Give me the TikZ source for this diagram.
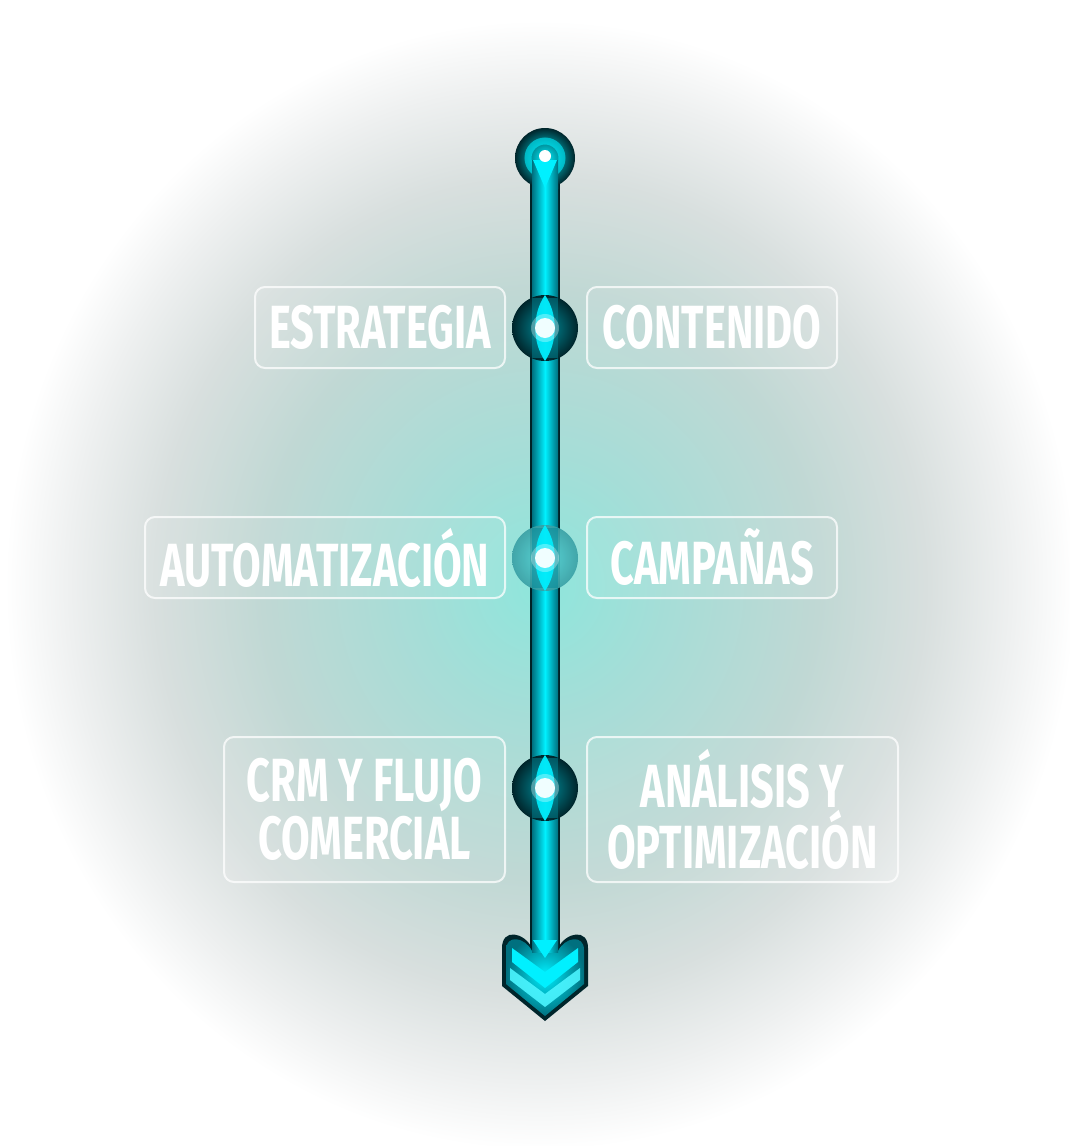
\documentclass[tikz,border=0pt]{standalone}
\usepackage{fontspec}
\newfontfamily\condfont[FakeStretch=0.68]{Fira Sans}
\usetikzlibrary{calc}
\definecolor{glowc}{HTML}{8EE6DC}
\definecolor{glowa}{HTML}{A6DDD7}
\definecolor{glowb}{HTML}{C0D8D4}
\definecolor{glowd}{HTML}{D8DFDE}
\definecolor{glowe}{HTML}{EEF0F0}
\definecolor{tubeDark}{HTML}{00707F}
\definecolor{tubeMid}{HTML}{00C0D4}
\definecolor{tubeBright}{HTML}{00F0FF}
\definecolor{nodeDark}{HTML}{00252B}
\definecolor{nodeMid}{HTML}{00909E}
\pgfdeclareradialshading{glow}{\pgfpoint{0bp}{0bp}}{color(0bp)=(glowc); color(6bp)=(glowa); color(13bp)=(glowb); color(18bp)=(glowd); color(22bp)=(glowe); color(25bp)=(white); color(50bp)=(white)}
\tikzset{
  stagebox/.style={draw=white, draw opacity=0.75, line width=2pt, fill=white, fill opacity=0.07, text opacity=1,
    rounded corners=10pt, text=white, align=center, inner sep=0pt,
    font=\condfont\bfseries\fontsize{61}{58}\selectfont},
  darkknob/.style={inner color=nodeMid, outer color=nodeDark},
  lightknob/.style={inner color=glowc!60!tubeMid, outer color=tubeDark!60!glowc, opacity=0.9},
  tubeshade/.style={left color=tubeDark, right color=tubeDark, middle color=tubeBright},
}
\begin{document}
\begin{tikzpicture}[x=1pt,y=-1pt]
\useasboundingbox (0,0) rectangle (1070,1146);
\fill[white] (0,0) rectangle (1070,1146);
\path[shading=glow] (540,585) ellipse [x radius=535, y radius=565];

% coordinates
\coordinate (top) at (545,158);
\coordinate (bot) at (545,955);
\coordinate (k1) at (545,328);
\coordinate (k2) at (545,558);
\coordinate (k3) at (545,788);

% tube
\fill[black!70!tubeDark] ($(top)+(-15,0)$) rectangle ($(bot)+(15,0)$);
\shade[tubeshade] ($(top)+(-13,0)$) rectangle ($(bot)+(13,0)$);

% top ring
\shade[inner color=tubeBright, outer color=nodeDark] (top) circle (30);
\draw[tubeBright, line width=7pt, opacity=0.6] (top) circle (17);
\shade[tubeshade] ($(top)+(-13,2)$) rectangle ($(top)+(13,30)$);
\fill[tubeBright] ($(top)+(-12,2)$) -- ($(top)+(12,2)$) -- ($(top)+(0,30)$) -- cycle;
\fill[white] ($(top)+(0,-2)$) circle (6);

% knobs
\foreach \k/\sty in {k1/darkknob, k3/darkknob, k2/lightknob}{
  \shade[\sty] (\k) circle (33);
  \fill[tubeDark!70!tubeMid, opacity=0.5] ($(\k)+(-13,-30)$) rectangle ($(\k)+(13,30)$);
  \shade[left color=tubeBright!75!tubeMid, right color=tubeBright!75!tubeMid, middle color=tubeBright, opacity=0.95]
     ($(\k)+(0,-33)$) .. controls ($(\k)+(-13,-14)$) and ($(\k)+(-13,14)$) .. ($(\k)+(0,33)$)
     .. controls ($(\k)+(13,14)$) and ($(\k)+(13,-14)$) .. ($(\k)+(0,-33)$);
  \fill[white, opacity=0.3] (\k) circle (14);
  \fill[white!94!tubeBright] (\k) circle (10);
}

% arrowhead
\fill[nodeDark] (532,948) .. controls (524,932) and (502,928) .. (502,948) -- (502,986) -- (545,1021) -- (588,986) -- (588,948) .. controls (588,928) and (566,932) .. (558,948) -- cycle;
\shade[inner color=tubeBright, outer color=tubeDark] (532,951) .. controls (525,937) and (506,934) .. (506,950) -- (506,984) -- (545,1016) -- (584,984) -- (584,950) .. controls (584,934) and (565,937) .. (558,951) -- cycle;
\fill[tubeBright] (512,948) -- (545,972) -- (578,948) -- (578,962) -- (545,988) -- (512,962) -- cycle;
\fill[tubeBright!70!white, opacity=0.9] (510,968) -- (545,994) -- (580,968) -- (580,980) -- (545,1007) -- (510,980) -- cycle;
\shade[tubeshade] (532,920) rectangle (558,952);
\fill[tubeBright] (533,940) -- (557,940) -- (545,958) -- cycle;

% stage boxes
\node[stagebox, minimum width=250pt, minimum height=81pt] (s1) at (380,327.5) {ESTRATEGIA};
\node[stagebox, minimum width=250pt, minimum height=81pt] (s2) at (712,327.5) {CONTENIDO};
\node[stagebox, minimum width=360pt, minimum height=81pt] (s3) at (325,557.5) {AUTOMATIZACIÓN};
\node[stagebox, minimum width=250pt, minimum height=81pt] (s4) at (712,557.5) {CAMPAÑAS};
\node[stagebox, minimum width=281pt, minimum height=145pt] (s5) at (364.5,809.5) {CRM Y FLUJO\\COMERCIAL};
\node[stagebox, minimum width=311pt, minimum height=145pt] (s6) at (742.5,809.5) {ANÁLISIS Y\\OPTIMIZACIÓN};
\end{tikzpicture}
\end{document}
